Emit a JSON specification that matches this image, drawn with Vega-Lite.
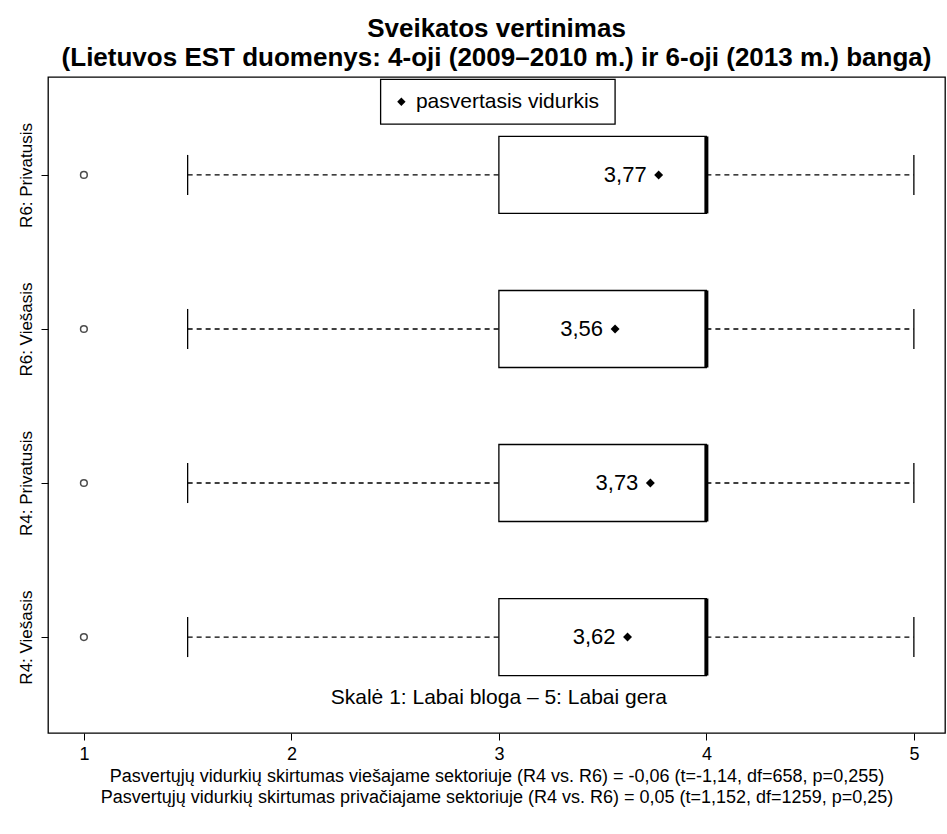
{
  "$schema": "https://vega.github.io/schema/vega-lite/v6.json",
  "width": 897,
  "height": 656,
  "autosize": "none",
  "padding": {"left": 48, "top": 77, "right": 2, "bottom": 101},
  "background": "white",
  "title": {
    "text": ["Sveikatos vertinimas", "(Lietuvos EST duomenys: 4-oji (2009–2010 m.) ir 6-oji (2013 m.) banga)"],
    "font": "Liberation Sans", "fontSize": 26, "fontWeight": "bold", "color": "black",
    "anchor": "middle", "offset": 6, "lineHeight": 29
  },
  "data": {
    "values": [
      {"group": "R4: Viešasis", "pos": 1, "lo": 1.5, "q1": 3, "med": 4, "q3": 4, "hi": 5, "out": 1, "mean": 3.62, "label": "3,62"},
      {"group": "R4: Privatusis", "pos": 2, "lo": 1.5, "q1": 3, "med": 4, "q3": 4, "hi": 5, "out": 1, "mean": 3.73, "label": "3,73"},
      {"group": "R6: Viešasis", "pos": 3, "lo": 1.5, "q1": 3, "med": 4, "q3": 4, "hi": 5, "out": 1, "mean": 3.56, "label": "3,56"},
      {"group": "R6: Privatusis", "pos": 4, "lo": 1.5, "q1": 3, "med": 4, "q3": 4, "hi": 5, "out": 1, "mean": 3.77, "label": "3,77"}
    ]
  },
  "transform": [
    {"calculate": "datum.pos - 0.25", "as": "blo"},
    {"calculate": "datum.pos + 0.25", "as": "bhi"},
    {"calculate": "datum.pos - 0.13", "as": "clo"},
    {"calculate": "datum.pos + 0.13", "as": "chi"}
  ],
  "layer": [
    {
      "mark": {"type": "rule", "strokeDash": [5, 4], "color": "black", "strokeWidth": 1.3},
      "encoding": {
        "x": {"field": "lo", "type": "quantitative", "scale": {"domain": [0.827, 5.15], "nice": false, "zero": false},
          "axis": {"values": [1, 2, 3, 4, 5], "format": "d", "grid": false, "domain": false, "tickSize": 7, "tickColor": "black", "labelFontSize": 18, "labelFont": "Liberation Sans", "labelColor": "black", "labelPadding": 5,
            "title": ["Pasvertųjų vidurkių skirtumas viešajame sektoriuje (R4 vs. R6) = -0,06 (t=-1,14, df=658, p=0,255)", "Pasvertųjų vidurkių skirtumas privačiajame sektoriuje (R4 vs. R6) = 0,05 (t=1,152, df=1259, p=0,25)"],
            "titleFontSize": 18, "titleFont": "Liberation Sans", "titleFontWeight": "normal", "titleColor": "black", "titlePadding": 4, "titleLineHeight": 21}},
        "x2": {"field": "q1"},
        "y": {"field": "pos", "type": "quantitative", "scale": {"domain": [0.377, 4.636], "nice": false, "zero": false},
          "axis": {"values": [1, 2, 3, 4], "labelExpr": "['', 'R4: Viešasis', 'R4: Privatusis', 'R6: Viešasis', 'R6: Privatusis'][datum.value]",
            "grid": false, "domain": false, "tickSize": 7, "tickColor": "black", "labelAngle": 270, "labelAlign": "center", "labelBaseline": "bottom",
            "labelFontSize": 17, "labelFont": "Liberation Sans", "labelColor": "black", "labelPadding": 6, "title": null}}
      }
    },
    {
      "mark": {"type": "rule", "strokeDash": [5, 4], "color": "black", "strokeWidth": 1.3},
      "encoding": {"x": {"field": "q3", "type": "quantitative"}, "x2": {"field": "hi"}, "y": {"field": "pos", "type": "quantitative"}}
    },
    {
      "mark": {"type": "rule", "color": "black", "strokeWidth": 1.3},
      "encoding": {"x": {"field": "lo", "type": "quantitative"}, "y": {"field": "clo", "type": "quantitative"}, "y2": {"field": "chi"}}
    },
    {
      "mark": {"type": "rule", "color": "black", "strokeWidth": 1.3},
      "encoding": {"x": {"field": "hi", "type": "quantitative"}, "y": {"field": "clo", "type": "quantitative"}, "y2": {"field": "chi"}}
    },
    {
      "mark": {"type": "rect", "fill": "white", "stroke": "black", "strokeWidth": 1.3},
      "encoding": {"x": {"field": "q1", "type": "quantitative"}, "x2": {"field": "q3"}, "y": {"field": "blo", "type": "quantitative"}, "y2": {"field": "bhi"}}
    },
    {
      "mark": {"type": "rule", "color": "black", "strokeWidth": 4},
      "encoding": {"x": {"field": "med", "type": "quantitative"}, "y": {"field": "blo", "type": "quantitative"}, "y2": {"field": "bhi"}}
    },
    {
      "mark": {"type": "point", "shape": "circle", "filled": false, "color": "black", "size": 45, "strokeWidth": 1.5},
      "encoding": {"x": {"field": "out", "type": "quantitative"}, "y": {"field": "pos", "type": "quantitative"}}
    },
    {
      "mark": {"type": "point", "shape": "diamond", "filled": true, "color": "black", "size": 80, "opacity": 1},
      "encoding": {"x": {"field": "mean", "type": "quantitative"}, "y": {"field": "pos", "type": "quantitative"}}
    },
    {
      "mark": {"type": "text", "align": "right", "dx": -12, "fontSize": 22, "font": "Liberation Sans", "color": "black"},
      "encoding": {"x": {"field": "mean", "type": "quantitative"}, "y": {"field": "pos", "type": "quantitative"}, "text": {"field": "label"}}
    },
    {
      "data": {"values": [{"x1": 2.43, "x2": 3.56, "y1": 4.33, "y2": 4.62, "tx": 2.53, "ty": 4.475, "tl": 2.6, "txt": "pasvertasis vidurkis"}]},
      "layer": [
        {"mark": {"type": "rect", "fill": "white", "stroke": "black", "strokeWidth": 1.3},
          "encoding": {"x": {"field": "x1", "type": "quantitative"}, "x2": {"field": "x2"}, "y": {"field": "y1", "type": "quantitative"}, "y2": {"field": "y2"}}},
        {"mark": {"type": "point", "shape": "diamond", "filled": true, "color": "black", "size": 70, "opacity": 1},
          "encoding": {"x": {"field": "tx", "type": "quantitative"}, "y": {"field": "ty", "type": "quantitative"}}},
        {"mark": {"type": "text", "align": "left", "baseline": "middle", "fontSize": 21, "font": "Liberation Sans", "color": "black"},
          "encoding": {"x": {"field": "tl", "type": "quantitative"}, "y": {"field": "ty", "type": "quantitative"}, "text": {"field": "txt"}}}
      ]
    },
    {
      "data": {"values": [{"x": 3, "y": 0.604, "txt": "Skalė 1: Labai bloga – 5: Labai gera"}]},
      "mark": {"type": "text", "align": "center", "baseline": "middle", "fontSize": 21, "font": "Liberation Sans", "color": "black"},
      "encoding": {"x": {"field": "x", "type": "quantitative"}, "y": {"field": "y", "type": "quantitative"}, "text": {"field": "txt"}}
    }
  ],
  "config": {"view": {"stroke": "black", "strokeWidth": 1.3}}
}
